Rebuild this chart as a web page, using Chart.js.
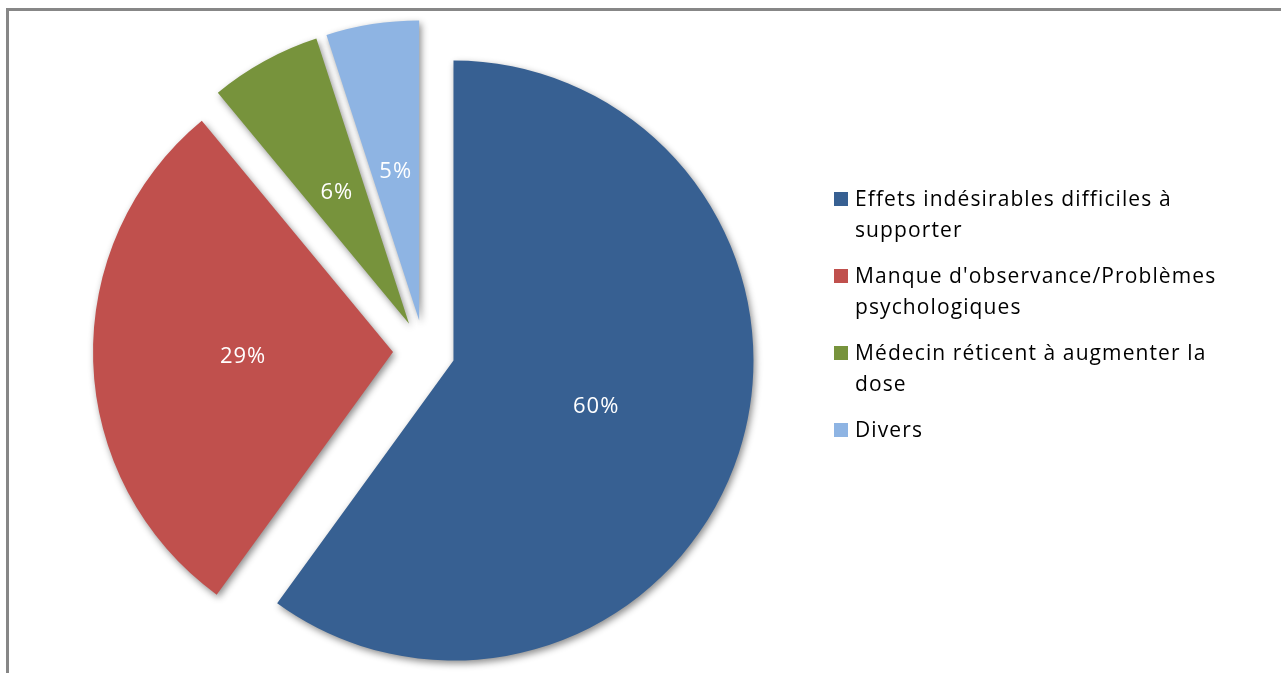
<!DOCTYPE html>
<html>
<head>
<meta charset="utf-8">
<script src="https://cdn.jsdelivr.net/npm/chart.js@4/dist/chart.umd.min.js"></script>
<style>
  html, body { margin: 0; padding: 0; background: #fff; overflow: hidden; }
  #wrap { position: relative; width: 1281px; height: 673px; overflow: hidden; }
  #frame { position: absolute; left: 6px; top: 8px; width: 1400px; height: 800px;
           border-left: 3px solid #878787; border-top: 3px solid #878787; }
  #pie { position: absolute; left: 0; top: 0; }
  #legend { position: absolute; left: 834px; top: 183px; font-family: "Open Sans", sans-serif;
            font-size: 21px; letter-spacing: 1.1px; color: #000; }
  .item { position: relative; padding-left: 21px; line-height: 31px; margin-bottom: 15px; white-space: nowrap; }
  .box { position: absolute; left: 0; top: 9px; width: 14px; height: 14px; }
</style>
</head>
<body>
<div id="wrap">
  <div id="frame"></div>
  <canvas id="pie" width="1281" height="673"></canvas>
  <div id="legend"></div>
</div>
<script>
// data
const labels = [
  ['Effets indésirables difficiles à', 'supporter'],
  ["Manque d'observance/Problèmes", 'psychologiques'],
  ['Médecin réticent à augmenter la', 'dose'],
  ['Divers']
];
const values = [60, 29, 6, 5];
const colors = ['#376092', '#C0504D', '#77933C', '#8EB4E3'];
const explode = 31;

// legend, built from the same arrays
const legend = document.getElementById('legend');
labels.forEach(function(lines, i) {
  const item = document.createElement('div');
  item.className = 'item';
  const box = document.createElement('span');
  box.className = 'box';
  box.style.background = colors[i];
  item.appendChild(box);
  lines.forEach(function(t, j) {
    if (j > 0) item.appendChild(document.createElement('br'));
    item.appendChild(document.createTextNode(t));
  });
  legend.appendChild(item);
});

// every slice pulled out from the centre, with a soft shadow
const explodePlugin = {
  id: 'explode',
  beforeDatasetDraw: function(chart, args) {
    const ctx = chart.ctx;
    args.meta.data.forEach(function(arc) {
      const mid = (arc.startAngle + arc.endAngle) / 2;
      ctx.save();
      ctx.translate(Math.cos(mid) * explode, Math.sin(mid) * explode);
      ctx.shadowColor = 'rgba(0,0,0,0.45)';
      ctx.shadowBlur = 7;
      ctx.shadowOffsetX = 2;
      ctx.shadowOffsetY = 3;
      arc.draw(ctx);
      ctx.restore();
    });
    return false;
  }
};

const pctPlugin = {
  id: 'pct',
  afterDatasetsDraw: function(chart) {
    const ctx = chart.ctx;
    const meta = chart.getDatasetMeta(0);
    const total = values.reduce(function(a, b) { return a + b; }, 0);
    ctx.save();
    ctx.fillStyle = '#fff';
    ctx.font = '22px "Open Sans", sans-serif';
    ctx.letterSpacing = '1px';
    ctx.textAlign = 'center';
    ctx.textBaseline = 'middle';
    meta.data.forEach(function(arc, i) {
      const mid = (arc.startAngle + arc.endAngle) / 2;
      const p = arc.getCenterPoint();
      const x = p.x + Math.cos(mid) * explode;
      const y = p.y + Math.sin(mid) * explode;
      ctx.fillText(Math.round(values[i] / total * 100) + '%', x, y);
    });
    ctx.restore();
  }
};

const ctx = document.getElementById('pie').getContext('2d');
const myChart = new Chart(ctx, {
  type: 'pie',
  data: {
    labels: labels,
    datasets: [{
      data: values,
      backgroundColor: colors,
      borderWidth: 0
    }]
  },
  options: {
    responsive: false,
    animation: false,
    events: [],
    radius: 300,
    layout: { padding: { left: 0, right: 433, top: 29, bottom: 0 } },
    plugins: {
      legend: { display: false },
      tooltip: { enabled: false }
    }
  },
  plugins: [explodePlugin, pctPlugin]
});
</script>
</body>
</html>
